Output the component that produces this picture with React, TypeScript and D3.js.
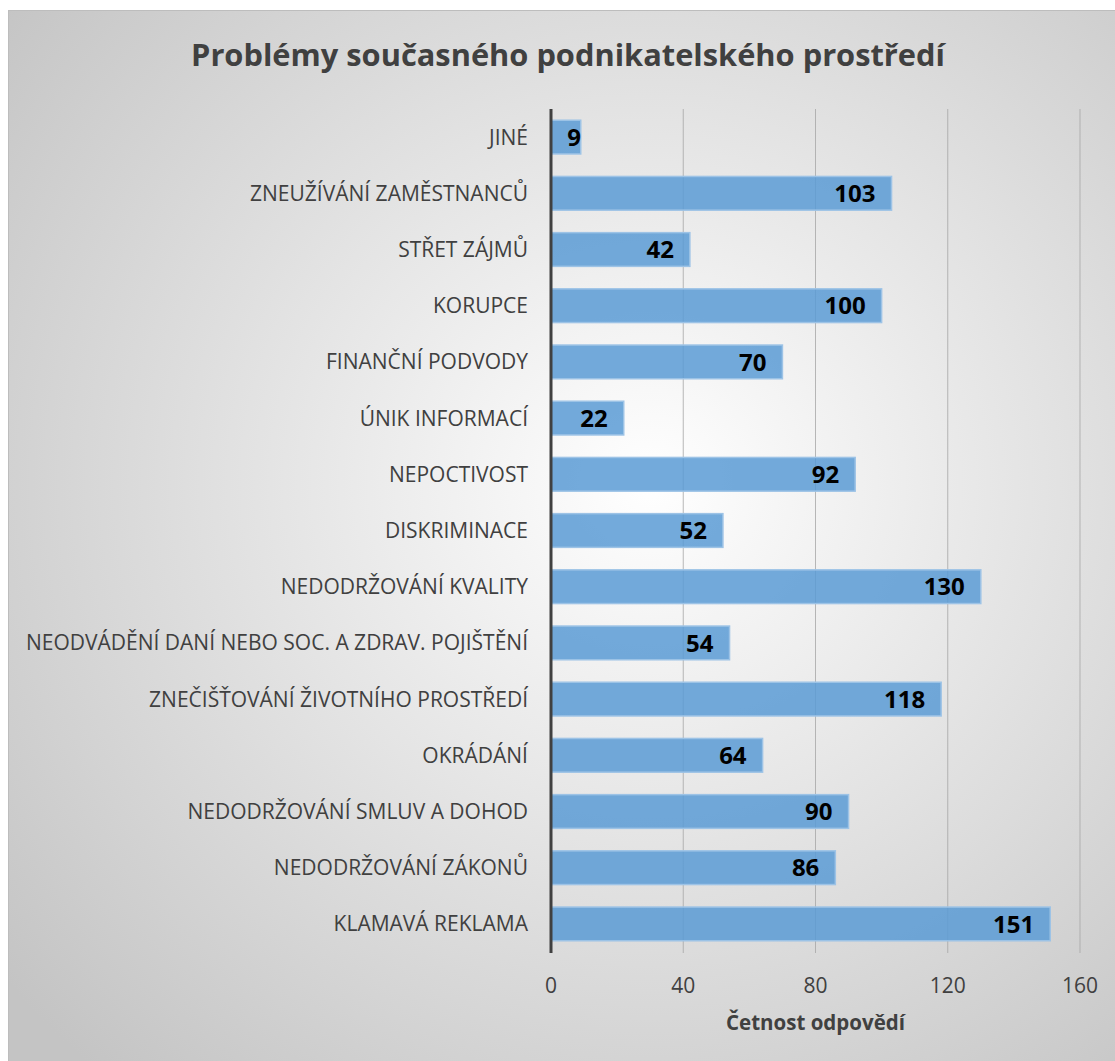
import React from "react";
import * as d3 from "d3";

const categories = [
  "JINÉ",
  "ZNEUŽÍVÁNÍ ZAMĚSTNANCŮ",
  "STŘET ZÁJMŮ",
  "KORUPCE",
  "FINANČNÍ PODVODY",
  "ÚNIK INFORMACÍ",
  "NEPOCTIVOST",
  "DISKRIMINACE",
  "NEDODRŽOVÁNÍ KVALITY",
  "NEODVÁDĚNÍ DANÍ NEBO SOC. A ZDRAV. POJIŠTĚNÍ",
  "ZNEČIŠŤOVÁNÍ ŽIVOTNÍHO PROSTŘEDÍ",
  "OKRÁDÁNÍ",
  "NEDODRŽOVÁNÍ SMLUV A DOHOD",
  "NEDODRŽOVÁNÍ ZÁKONŮ",
  "KLAMAVÁ REKLAMA",
];
const values = [9, 103, 42, 100, 70, 22, 92, 52, 130, 54, 118, 64, 90, 86, 151];
const xTicks = [0, 40, 80, 120, 160];
const title = "Problémy současného podnikatelského prostředí";
const xTitle = "Četnost odpovědí";

export default function App() {
  const W = 1115, H = 1061;
  const x0 = 551, x1 = 1080, yTop = 109, yBot = 953;
  const x = d3.scaleLinear().domain([0, 160]).range([x0, x1]);
  const y = d3.scaleBand().domain(categories).range([109, 952]).paddingInner(0.4).paddingOuter(0.2);
  const font = "'Open Sans', sans-serif";
  return (
    <svg width={W} height={H} style={{ position: "absolute", left: 0, top: 0 }}>
      <defs>
        <radialGradient id="bg" cx="0.58" cy="0.45" r="0.75">
          <stop offset="0" stopColor="#ffffff" />
          <stop offset="1" stopColor="#c4c4c4" />
        </radialGradient>
      </defs>
      <rect x={8.5} y={10.5} width={W - 8} height={H - 10} fill="url(#bg)" stroke="#bdbdbd" />
      <text x={568} y={66} textAnchor="middle" fontFamily={font} fontWeight="bold" fontSize={30.8} fill="#404040">
        {title}
      </text>
      {xTicks.slice(1).map((t) => (
        <line key={t} x1={x(t)} x2={x(t)} y1={yTop} y2={yBot} stroke="#a6a6a6" strokeWidth={1} strokeOpacity={0.8} />
      ))}
      {categories.map((c, i) => {
        const yy = y(c)!;
        const bw = y.bandwidth();
        const lx = Math.max(x(values[i]) - 16, x(0) + 30);
        return (
          <g key={c}>
            <rect x={x(0)} y={yy} width={x(values[i]) - x(0)} height={bw} fill="#5b9bd5" fillOpacity={0.85} stroke="#9dc3e6" strokeWidth={1.5} />
            <text x={lx} y={yy + bw / 2} dy="0.36em" textAnchor="end" fontFamily={font} fontWeight="bold" fontSize={24} fill="#000">
              {values[i]}
            </text>
            <text x={528} y={yy + bw / 2} dy="0.36em" textAnchor="end" fontFamily={font} fontSize={21} fill="#404040">
              {c}
            </text>
          </g>
        );
      })}
      <line x1={x(0)} x2={x(0)} y1={yTop} y2={yBot} stroke="#404040" strokeWidth={3} />
      {xTicks.map((t) => (
        <text key={t} x={x(t)} y={985} dy="0.36em" textAnchor="middle" fontFamily={font} fontSize={21} fill="#404040">
          {t}
        </text>
      ))}
      <text x={x(80)} y={1023} dy="0.36em" textAnchor="middle" fontFamily={font} fontWeight="bold" fontSize={20.5} fill="#404040">
        {xTitle}
      </text>
    </svg>
  );
}
